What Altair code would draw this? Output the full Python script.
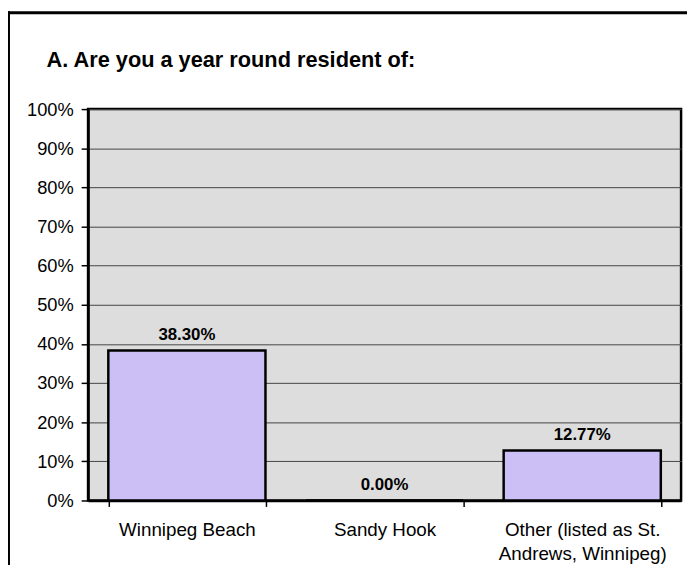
import altair as alt
import pandas as pd

categories = ["Winnipeg Beach", "Sandy Hook", "Other (listed as St.\nAndrews, Winnipeg)"]
values = [0.3830, 0.0000, 0.1277]
y_ticks = [0.0, 0.1, 0.2, 0.3, 0.4, 0.5, 0.6, 0.7, 0.8, 0.9, 1.0]
title_text = "A. Are you a year round resident of:"

df = pd.DataFrame({"category": categories, "value": values})

FONT = "Liberation Sans"

x_enc = alt.X(
    "category:N",
    sort=categories,
    title=None,
    scale=alt.Scale(paddingInner=0.205, paddingOuter=0.1025),
    axis=alt.Axis(
        labelAngle=0,
        labelFont=FONT,
        labelFontSize=19,
        labelColor="black",
        labelPadding=14,
        labelLineHeight=25,
        labelExpr="split(datum.label, '\\n')",
        labelLimit=300,
        tickBand="extent",
        ticks=True,
        tickSize=6,
        tickColor="black",
        tickWidth=1.5,
        domainColor="black",
        domainWidth=2.5,
        grid=False,
    ),
)

y_enc = alt.Y(
    "value:Q",
    title=None,
    scale=alt.Scale(domain=[0, 1], nice=False, zero=True),
    axis=alt.Axis(
        values=y_ticks,
        tickCount=11,
        format=".0%",
        labelFont=FONT,
        labelFontSize=18.5,
        labelColor="black",
        labelPadding=8,
        labelOverlap=False,
        tickSize=7,
        tickColor="black",
        tickWidth=1.5,
        domainColor="black",
        domainWidth=2.5,
        grid=True,
        gridColor="#444444",
        gridWidth=1,
    ),
)

base = alt.Chart(df)

bars = base.mark_bar(
    fill="#CBBFF6", stroke="black", strokeWidth=2.5
).encode(x=x_enc, y=y_enc)

labels = base.mark_text(
    font=FONT, fontSize=17, fontWeight="bold", color="black",
    baseline="alphabetic", dy=-11,
).encode(
    x=x_enc,
    y=y_enc,
    text=alt.Text("value:Q", format=".2%"),
)

one = alt.Data(values=[{"t": title_text}])
title_mark = alt.Chart(one).mark_text(
    font=FONT, fontSize=22, fontWeight="bold", color="black",
    align="left", baseline="alphabetic",
).encode(x=alt.value(-42), y=alt.value(-43), text="t:N")

frame_top = alt.Chart(one).mark_rule(color="black", strokeWidth=3).encode(
    x=alt.value(-82), x2=alt.value(620), y=alt.value(-97.5)
)
frame_left = alt.Chart(one).mark_rule(color="black", strokeWidth=3).encode(
    x=alt.value(-80.5), y=alt.value(-99), y2=alt.value(520)
)

chart = alt.layer(bars, labels, title_mark, frame_top, frame_left).properties(
    width=600,
    height=396,
    background="white",
    autosize=alt.AutoSizeParams(type="none"),
    padding={"left": 81, "top": 99, "right": 6, "bottom": 62},
).configure_view(
    fill="#DDDDDD", stroke="black", strokeWidth=2.5
)

chart.save("out.html", embed_options={"renderer": "svg", "actions": False})
